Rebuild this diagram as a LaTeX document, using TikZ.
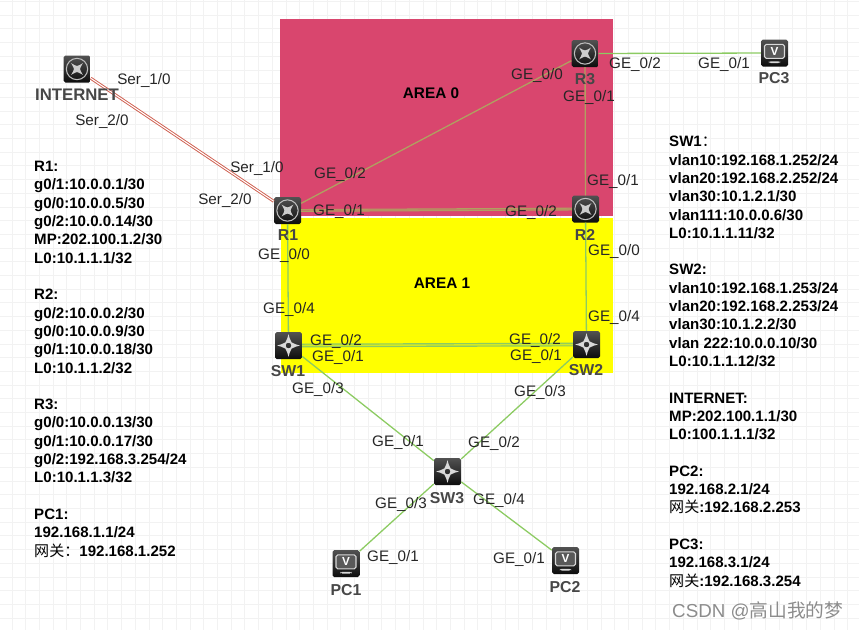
\documentclass[tikz,border=0pt]{standalone}
\usepackage{fontspec}
\usepackage{xcolor}
\setmainfont{Liberation Sans}
\newfontfamily\cjkfont{Noto Sans CJK SC}
\newcommand{\wangguan}{{\cjkfont\mdseries 网关}}
\newcommand{\fullcolon}{{\cjkfont\mdseries ：}}
\definecolor{areared}{HTML}{D9466E}
\definecolor{areayellow}{HTML}{FFFF00}
\definecolor{linkgreen}{HTML}{8CCB62}
\definecolor{linktan}{HTML}{B0A060}
\definecolor{linkred}{HTML}{CF5F50}
\definecolor{gridgrey}{HTML}{F2F2F2}
\tikzset{
  device/.style={minimum size=0.81cm, inner sep=0pt, rounded corners=1.5pt, top color=black!68, bottom color=black!95},
  router/.style={device, path picture={
      \draw[white!75!black, line width=0.9pt] (path picture bounding box.center) circle (0.32cm);
      \foreach \ang in {45,135,225,315}
        \draw[white!80!black, line width=1.5pt, -latex, shorten <=1.2pt] (path picture bounding box.center) -- ++(\ang:0.25cm);
    }},
  lanswitch/.style={device, path picture={
      \draw[white!85!black, line width=1.2pt] (path picture bounding box.center) circle (0.11cm);
      \foreach \ang in {0,90,180,270}
        \draw[white!85!black, line width=1.4pt, -latex, shorten <=3.2pt] (path picture bounding box.center) -- ++(\ang:0.34cm);
    }},
  pchost/.style={device, path picture={
      \node[draw=white!85!black, fill=black!65, line width=0.9pt, minimum width=0.6cm, minimum height=0.42cm, inner sep=0pt, text=white, font=\bfseries\fontsize{10}{10}\selectfont] at ([yshift=0.05cm]path picture bounding box.center) {V};
      \fill[white!85!black] ([xshift=-0.17cm,yshift=-0.25cm]path picture bounding box.center) rectangle ++(0.34cm,-0.05cm);
    }},
  devlabel/.style={inner sep=0pt, text=black!72, font=\bfseries\fontsize{13.5}{15}\selectfont},
  port/.style={inner sep=0pt, text=black!85, font=\fontsize{13}{15}\selectfont},
  arealabel/.style={inner sep=0pt, font=\bfseries\fontsize{13.1}{15}\selectfont},
  infolist/.style={anchor=north west, inner sep=0pt, align=left, font=\bfseries\fontsize{12.85}{15.63}\selectfont},
  ethlink/.style={line width=1.1pt, linkgreen},
  ospflink/.style={line width=1.1pt, linktan},
  seriallink/.style={linkred, line width=0.8pt, double=white, double distance=0.9pt},
}

\begin{document}
\begin{tikzpicture}[x=0.03cm, y=-0.03cm]
\useasboundingbox (0,0) rectangle (859,630);

        % Background grid
        \foreach \gx in {0,...,62}
          \draw[gridgrey, line width=0.7pt] ({12+13.7*\gx},0) -- ({12+13.7*\gx},630);
        \foreach \gy in {0,...,45}
          \draw[gridgrey, line width=0.7pt] (0,{1.5+13.7*\gy}) -- (859,{1.5+13.7*\gy});

        % Areas
        \fill[areared] (279.5,19) rectangle (613,215.5);
        \fill[areayellow] (280.5,217.7) rectangle (613,372.7);
        \node[arealabel] (area0) at (431,93) {AREA 0};
        \node[arealabel] (area1) at (442,283) {AREA 1};

        % Devices
        \node[router] (INTERNET) at (77,69) {};
        \node[router] (R1) at (287.5,210.5) {};
        \node[router] (R2) at (585.5,209) {};
        \node[router] (R3) at (585,53.5) {};
        \node[lanswitch] (SW1) at (288.5,345.5) {};
        \node[lanswitch] (SW2) at (586.5,344.5) {};
        \node[lanswitch] (SW3) at (447.5,471.5) {};
        \node[pchost] (PC1) at (346,563.5) {};
        \node[pchost] (PC2) at (565.5,560.5) {};
        \node[pchost] (PC3) at (774.5,53) {};

        % Links
        \draw[seriallink] (INTERNET) -- (R1);
        \draw[ospflink] (R1) -- (R3);
        \draw[ospflink] (R3) -- (R2);
        \draw[ospflink, line width=0.9pt, double=areared!40!linktan, double distance=0.6pt] (R1) -- (R2);
        \draw[ethlink] (R3) -- (PC3);
        \draw[ethlink] (R1) -- (SW1);
        \draw[ethlink] (R2) -- (SW2);
        \draw[ethlink, line width=1pt, double=areayellow!60!linkgreen, double distance=1.2pt] (SW1) -- (SW2);
        \draw[ethlink] (SW1) -- (SW3);
        \draw[ethlink] (SW2) -- (SW3);
        \draw[ethlink] (SW3) -- (PC1);
        \draw[ethlink] (SW3) -- (PC2);

        % Device names
        \node[devlabel, font=\bfseries\fontsize{14.3}{15}\selectfont] (nameINTERNET) at (77,95) {INTERNET};
        \node[devlabel] (nameR1) at (288,235) {R1};
        \node[devlabel] (nameR2) at (585,235) {R2};
        \node[devlabel] (nameR3) at (585,79) {R3};
        \node[devlabel] (nameSW1) at (288,371) {SW1};
        \node[devlabel] (nameSW2) at (586,370) {SW2};
        \node[devlabel] (nameSW3) at (447,498) {SW3};
        \node[devlabel] (namePC1) at (346,590) {PC1};
        \node[devlabel] (namePC2) at (565,587) {PC2};
        \node[devlabel] (namePC3) at (774,78) {PC3};

        % Port names
        \node[port] (inetS1) at (144,80) {Ser\_1/0};
        \node[port] (inetS2) at (102,121) {Ser\_2/0};
        \node[port] (routerS1) at (257,168) {Ser\_1/0};
        \node[port] (routerS2) at (225,200) {Ser\_2/0};
        \node[port] (r1G2) at (340,174) {GE\_0/2};
        \node[port] (r1G1) at (339,211) {GE\_0/1};
        \node[port] (r1G0) at (284,255) {GE\_0/0};
        \node[port] (r2G1) at (613,181) {GE\_0/1};
        \node[port] (r2G2) at (531,212) {GE\_0/2};
        \node[port] (r2G0) at (614,251) {GE\_0/0};
        \node[port] (r3G0) at (537,75) {GE\_0/0};
        \node[port] (r3G1) at (589,97) {GE\_0/1};
        \node[port] (r3G2) at (635,64) {GE\_0/2};
        \node[port] (pc3G1) at (724,64) {GE\_0/1};
        \node[port] (sw1G4) at (289,309) {GE\_0/4};
        \node[port] (sw1G2) at (336,341) {GE\_0/2};
        \node[port] (sw1G1) at (338,357) {GE\_0/1};
        \node[port] (sw1G3) at (318,389) {GE\_0/3};
        \node[port] (sw2G4) at (614,317) {GE\_0/4};
        \node[port] (sw2G2) at (535,340) {GE\_0/2};
        \node[port] (sw2G1) at (536,356) {GE\_0/1};
        \node[port] (sw2G3) at (540,392) {GE\_0/3};
        \node[port] (sw3G1) at (398,442) {GE\_0/1};
        \node[port] (sw3G2) at (494,443) {GE\_0/2};
        \node[port] (sw3G3) at (401,504) {GE\_0/3};
        \node[port] (sw3G4) at (499,500) {GE\_0/4};
        \node[port] (pc1G1) at (393,557) {GE\_0/1};
        \node[port] (pc2G1) at (519,559) {GE\_0/1};

        % Address lists
        \node[infolist] (listleft) at (34,161) {R1:\\
          g0/1:10.0.0.1/30\\
          g0/0:10.0.0.5/30\\
          g0/2:10.0.0.14/30\\
          MP:202.100.1.2/30\\
          L0:10.1.1.1/32\\[15.63pt]
          R2:\\
          g0/2:10.0.0.2/30\\
          g0/0:10.0.0.9/30\\
          g0/1:10.0.0.18/30\\
          L0:10.1.1.2/32\\[15.63pt]
          R3:\\
          g0/0:10.0.0.13/30\\
          g0/1:10.0.0.17/30\\
          g0/2:192.168.3.254/24\\
          L0:10.1.1.3/32\\[15.63pt]
          PC1:\\
          192.168.1.1/24\\
          \wangguan\fullcolon 192.168.1.252};
        \node[infolist] (listright) at (669,136) {SW1\fullcolon\\
          vlan10:192.168.1.252/24\\
          vlan20:192.168.2.252/24\\
          vlan30:10.1.2.1/30\\
          vlan111:10.0.0.6/30\\
          L0:10.1.1.11/32\\[15.63pt]
          SW2:\\
          vlan10:192.168.1.253/24\\
          vlan20:192.168.2.253/24\\
          vlan30:10.1.2.2/30\\
          vlan 222:10.0.0.10/30\\
          L0:10.1.1.12/32\\[15.63pt]
          INTERNET:\\
          MP:202.100.1.1/30\\
          L0:100.1.1.1/32\\[15.63pt]
          PC2:\\
          192.168.2.1/24\\
          \wangguan:192.168.2.253\\[15.63pt]
          PC3:\\
          192.168.3.1/24\\
          \wangguan:192.168.3.254};

        % Watermark
        \node[anchor=west, inner sep=0pt, text=black!45, font=\fontsize{16}{18}\selectfont] (mark) at (672,611) {CSDN @{\cjkfont 高山我的梦}};
\end{tikzpicture}
\end{document}
